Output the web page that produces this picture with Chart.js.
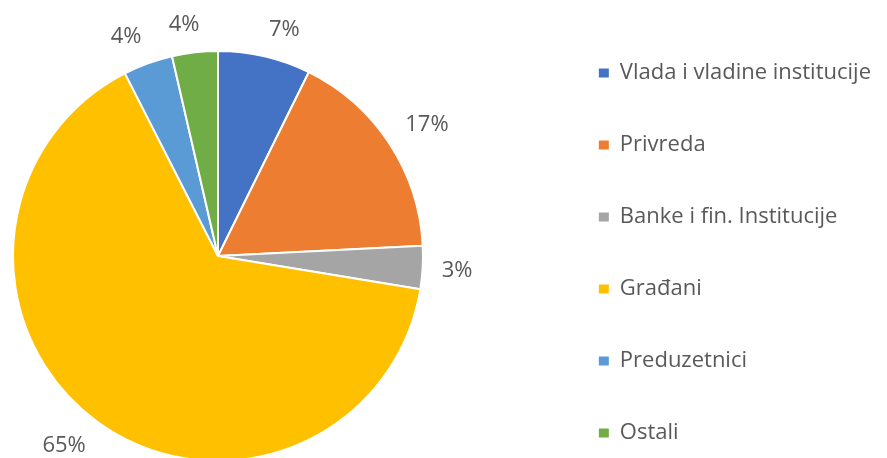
<!DOCTYPE html>
<html>
<head>
<meta charset="utf-8">
<script src="https://cdn.jsdelivr.net/npm/chart.js@4.4.0/dist/chart.umd.min.js"></script>
<style>
  body { margin: 0; background: #fff; }
  #wrap { width: 887px; height: 458px; position: relative; }
</style>
</head>
<body>
<div id="wrap"><canvas id="pieChart"></canvas></div>
<script>
// Sectors and their shares (percent)
const sectors = ['Vlada i vladine institucije', 'Privreda', 'Banke i fin. Institucije', 'Građani', 'Preduzetnici', 'Ostali'];
const shares = [7.3, 16.9, 3.4, 64.9, 3.9, 3.6];
const sliceColors = ['#4472C4', '#ED7D31', '#A5A5A5', '#FFC000', '#5B9BD5', '#70AD47'];

const textColor = '#595959';
const fontFamily = '"Open Sans", sans-serif';

// Where the pie sits on the left side of the canvas
const pieCenterX = 218;
const pieCenterY = 256;
const pieRadius = 205;

function clamp(v) {
    return Math.max(-1, Math.min(1, v));
}

// Put the plot area around the pie, the legend keeps its own place
const pieArea = {
    id: 'pieArea',
    afterLayout(chart) {
        chart.chartArea = {
            left: pieCenterX - pieRadius,
            top: pieCenterY - pieRadius,
            right: pieCenterX + pieRadius,
            bottom: pieCenterY + pieRadius,
            width: pieRadius * 2,
            height: pieRadius * 2
        };
    }
};

// Percent labels outside each slice
const pieLabels = {
    id: 'pieLabels',
    afterDatasetsDraw(chart) {
        const ctx = chart.ctx;
        const meta = chart.getDatasetMeta(0);
        const total = shares.reduce((a, b) => a + b, 0);
        ctx.save();
        ctx.font = '22px ' + fontFamily;
        ctx.fillStyle = textColor;
        ctx.textAlign = 'center';
        ctx.textBaseline = 'middle';
        meta.data.forEach((arc, i) => {
            const p = arc.getProps(['x', 'y', 'startAngle', 'endAngle', 'outerRadius'], true);
            const a = (p.startAngle + p.endAngle) / 2;
            const r = p.outerRadius + 19;
            const text = Math.round(shares[i] / total * 100) + '%';
            const w = ctx.measureText(text).width;
            const h = 17;
            const cx = p.x + Math.cos(a) * r + clamp(Math.cos(a) * 5) * w / 2;
            const cy = p.y + Math.sin(a) * r + clamp(Math.sin(a) * 5) * h / 2;
            ctx.fillText(text, cx, cy);
        });
        ctx.restore();
    }
};

const defaultLabels = Chart.overrides.pie.plugins.legend.labels.generateLabels;

new Chart(document.getElementById('pieChart'), {
    type: 'pie',
    data: {
        labels: sectors,
        datasets: [{
            data: shares,
            backgroundColor: sliceColors,
            borderColor: '#ffffff',
            borderWidth: 2,
            radius: pieRadius
        }]
    },
    options: {
        responsive: true,
        maintainAspectRatio: false,
        animation: false,
        events: [],
        layout: {
            // legend gets a taller box than the canvas so all six items stay in one column
            padding: { left: 0, right: 6, top: 10, bottom: -38 }
        },
        plugins: {
            tooltip: { enabled: false },
            legend: {
                position: 'right',
                align: 'center',
                labels: {
                    boxWidth: 10,
                    boxHeight: 9,
                    padding: 50,
                    color: textColor,
                    font: { family: fontFamily, size: 22 },
                    generateLabels: function(chart) {
                        return defaultLabels(chart).map(item => {
                            item.lineWidth = 0;
                            return item;
                        });
                    }
                }
            }
        }
    },
    plugins: [pieArea, pieLabels]
});
</script>
</body>
</html>
